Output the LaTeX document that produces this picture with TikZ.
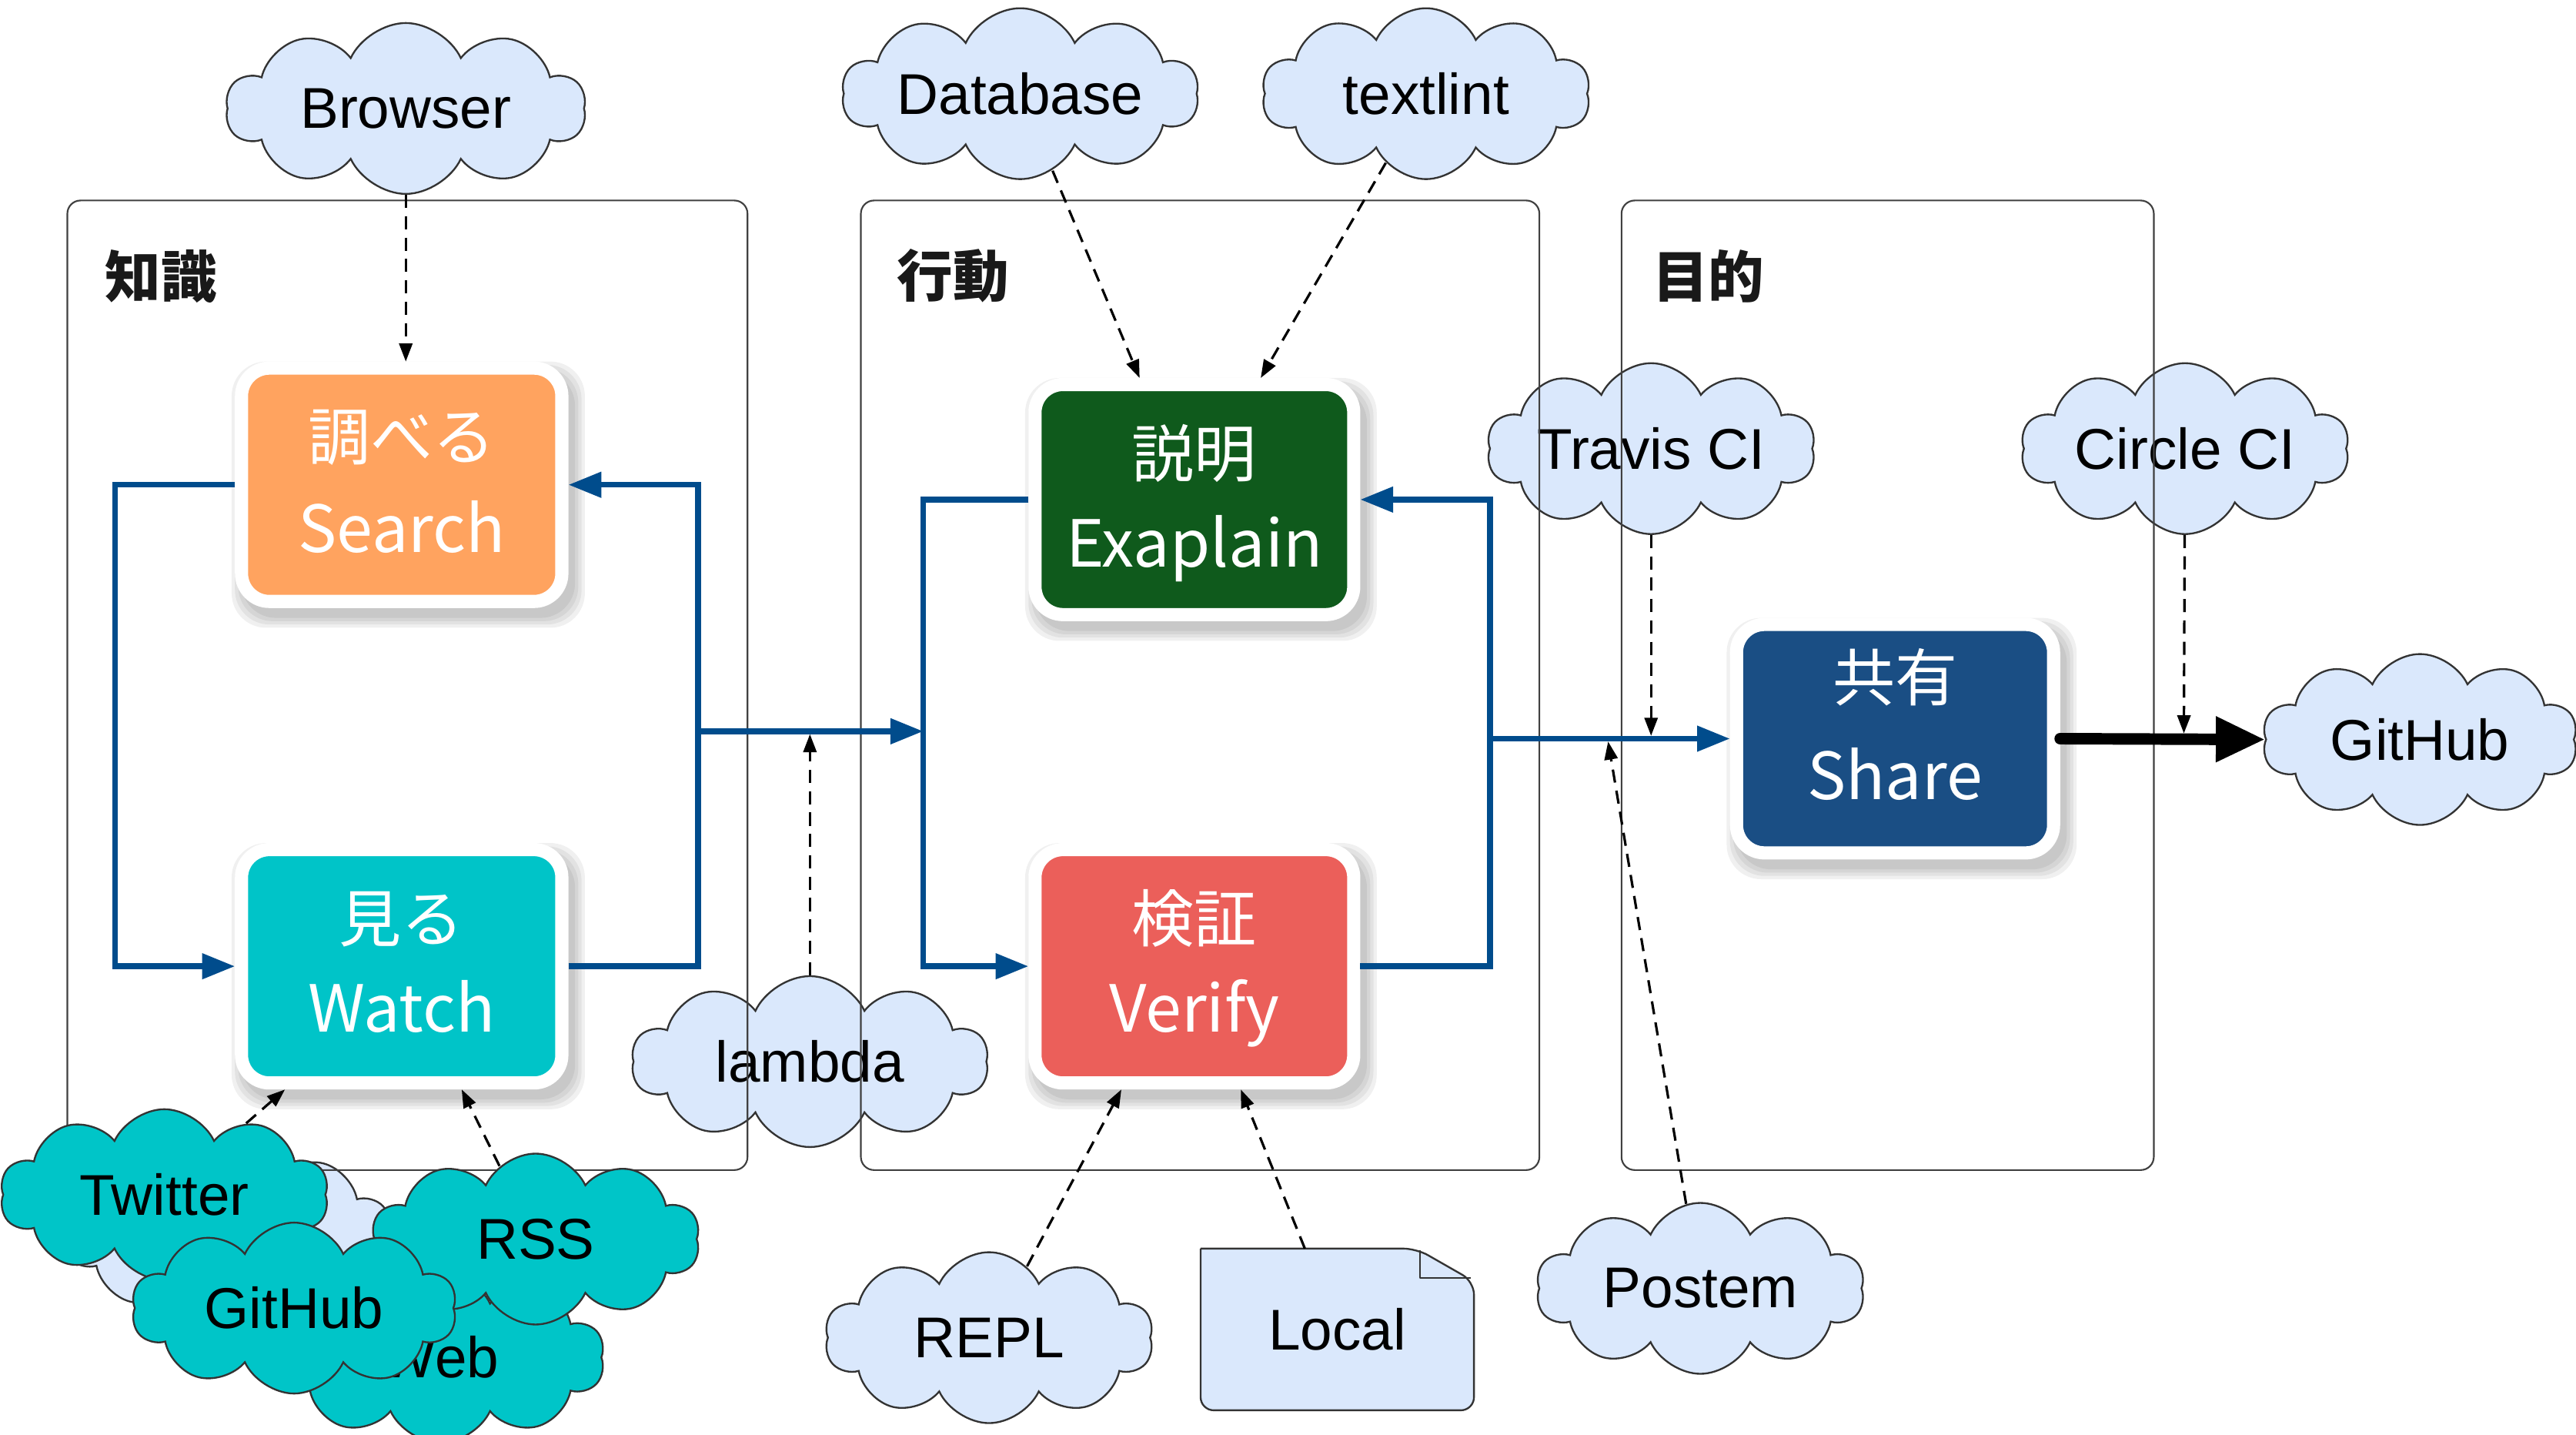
\documentclass[tikz,border=0pt]{standalone}
\usepackage{fontspec}
\setmainfont{Liberation Sans}
\newfontfamily\cjk{Noto Sans CJK JP}
\usetikzlibrary{shapes.symbols,arrows.meta,calc}
\pgfdeclarelayer{bg}
\pgfsetlayers{bg,main}
\definecolor{cloudfill}{HTML}{DAE8FC}
\definecolor{tealc}{HTML}{00C5C8}
\definecolor{orangeb}{HTML}{FFA35F}
\definecolor{tealb}{HTML}{00C4C8}
\definecolor{greenb}{HTML}{0F5A1C}
\definecolor{redb}{HTML}{EB5F5A}
\definecolor{navyb}{HTML}{1A4E84}
\definecolor{flowblue}{HTML}{004C8C}
\begin{document}
\begin{tikzpicture}[x=1pt,y=-1pt,
 cloudnode/.style={cloud, cloud puffs=10, cloud puff arc=130, shape border rotate=18, cloud ignores aspect, draw=black!80, line width=1.1pt, fill=cloudfill, minimum width=#1, minimum height=104pt, inner sep=0pt},
 cloudnode/.default=200pt,
 tealcloud/.style={cloudnode=#1, fill=tealc},
 tealcloud/.default=200pt,
 cloudtext/.style={font=\fontsize{35}{40}\selectfont, text=black},
 framebox/.style={draw=black!75, line width=1pt, rounded corners=8pt, inner sep=0pt},
 frametitle/.style={font=\cjk\bfseries\fontsize{34}{40}\selectfont, text=black!90},
 procbox/.style={rectangle, rounded corners=17pt, draw=white, line width=8pt, inner sep=0pt},
 jtext/.style={anchor=base, text=white, font=\cjk\fontsize{38}{44}\selectfont},
 ltext/.style={anchor=base, text=white, font=\cjk\fontsize{39.5}{46}\selectfont},
 flow/.style={draw=flowblue, line width=3.5pt, -{Triangle[length=20pt,width=15pt]}},
 dashy/.style={draw=black, line width=1.5pt, dash pattern=on 8pt off 5pt, -{Triangle[length=11pt,width=8pt]}},
 bigflow/.style={draw=black, line width=7pt, line cap=round, -{Triangle[length=30pt,width=26pt]}},
 doc/.style={fill=cloudfill, draw=black!80, line width=1.1pt}
]
\useasboundingbox (0,0) rectangle (1568,873);

% light clouds
\node[cloudnode=219pt, label={[cloudtext]center:Browser}] (browser) at (247,66) {};
\node[cloudnode=217pt, label={[cloudtext]center:Database}] (database) at (621,57) {};
\node[cloudnode, label={[cloudtext]center:textlint}] (textlint) at (868,57) {};
\node[cloudnode, label={[cloudtext]center:Travis CI}] (travis) at (1005,273) {};
\node[cloudnode, label={[cloudtext]center:Circle CI}] (circleci) at (1330,273) {};
\node[cloudnode=192pt, label={[cloudtext]center:GitHub}] (ghR) at (1473,450) {};
\node[cloudnode=217pt, label={[cloudtext]center:lambda}] (lambda) at (493,646) {};
\node[cloudnode, label={[cloudtext]center:REPL}] (repl) at (602,814) {};
\node[cloudnode, label={[cloudtext]center:Postem}] (postem) at (1035,784) {};
\node[cloudnode] (hidden) at (138,750) {};

% local document
\node[cloudtext, minimum width=166pt, minimum height=98pt, inner sep=0pt] (local) at (814,809) {Local};

% frames
\node[framebox, minimum width=414pt, minimum height=590pt] (fk) at (248,417) {};
\node[framebox, minimum width=413pt, minimum height=590pt] (fa) at (730.5,417) {};
\node[framebox, minimum width=324pt, minimum height=590pt] (fp) at (1149,417) {};
\node[frametitle] (tk) at (98,168) {知識};
\node[frametitle] (ta) at (580,168) {行動};
\node[frametitle] (tp) at (1040,168) {目的};

% process boxes
\node[procbox, fill=orangeb, minimum width=195pt, minimum height=142pt] (search) at (244.5,295) {};
\node[procbox, fill=tealb, minimum width=195pt, minimum height=142pt] (watch) at (244.5,588) {};
\node[procbox, fill=greenb, minimum width=194pt, minimum height=140pt] (explain) at (727,304) {};
\node[procbox, fill=redb, minimum width=194pt, minimum height=142pt] (verify) at (727,588) {};
\node[procbox, fill=navyb, minimum width=193pt, minimum height=139pt] (share) at (1153.5,449.5) {};

\node[jtext] (searchj) at ($(search.center)+(0,-15)$) {調べる};
\node[ltext] (searchl) at ($(search.center)+(0,41)$) {Search};
\node[jtext] (watchj) at ($(watch.center)+(0,-15)$) {見る};
\node[ltext] (watchl) at ($(watch.center)+(0,40)$) {Watch};
\node[jtext] (explainj) at ($(explain.center)+(0,-14)$) {説明};
\node[ltext] (explainl) at ($(explain.center)+(0,41)$) {Exaplain};
\node[jtext] (verifyj) at ($(verify.center)+(0,-15)$) {検証};
\node[ltext] (verifyl) at ($(verify.center)+(0,40)$) {Verify};
\node[jtext] (sharej) at ($(share.center)+(0,-23)$) {共有};
\node[ltext] (sharel) at ($(share.center)+(0,37)$) {Share};

% teal clouds
\node[tealcloud, label={[cloudtext]center:Web}] (web) at (268,826) {};
\node[tealcloud, label={[cloudtext]center:Twitter}] (twitter) at (100,727) {};
\node[tealcloud, label={[cloudtext]center:RSS}] (rss) at (326,754) {};
\node[tealcloud=198pt, label={[cloudtext]center:GitHub}] (ghT) at (179,796) {};

% background: shadows and document outline
\begin{pgfonlayer}{bg}
\foreach \b in {search,watch,explain,verify,share}{
  \foreach \k in {0,2,4,6}{
    \fill[black, opacity=0.06, rounded corners=21pt] ($(\b.north west)+(4-\k,6-\k)$) rectangle ($(\b.south east)+(4+\k,6+\k)$);
  }
}
\draw[doc, rounded corners=8pt] (local.north west) -- ($(local.north east)+(-35,0)$) -- ($(local.north east)+(0,20)$) -- (local.south east) -- (local.south west) -- (local.north west);
\draw[doc, fill=none, line join=round] ($(local.north east)+(-33,1)$) -- ($(local.north east)+(-33,18)$) -- ($(local.north east)+(-2,18)$);
\end{pgfonlayer}

% flow connectors
\draw[flow] (search.west) -- ++(-73,0) |- (watch.west);
\draw[flow] (watch.east) -- ++(79,0) |- (search.east);
\coordinate (j1) at (425,445);
\coordinate (j2) at (562,445);
\draw[flow] (j1) -- (j2);
\draw[flow] (explain.west) -- ++(-64,0) |- (verify.west);
\draw[flow] (verify.east) -- ++(79,0) |- (explain.east);
\coordinate (j3) at (907,449.5);
\draw[flow] (j3) -- (share.west);
\draw[bigflow] (share.east) -- (ghR.west);

% dashed connectors
\draw[dashy] (browser) -- (browser |- search.north);
\draw[dashy] (database) -- ($(explain.north west)!0.335!(explain.north east)$);
\draw[dashy] (textlint) -- ($(explain.north west)!0.70!(explain.north east)$);
\draw[dashy, shorten >=1.75pt] (lambda) -- ($(j1)!(lambda)!(j2)$);
\draw[dashy, shorten >=1.75pt] (travis) -- ($(j3)!(travis)!(share.west)$);
\draw[dashy, shorten >=3.5pt] (circleci) -- ($(share.east)!(circleci)!(ghR.west)$);
\draw[dashy, shorten >=1.75pt] (postem) -- ($(j3)!0.49!(share.west)$);
\draw[dashy] (repl) -- ($(verify.south west)!0.28!(verify.south east)$);
\draw[dashy] (local) -- ($(verify.south west)!0.64!(verify.south east)$);
\draw[dashy] (twitter) -- ($(watch.south west)!0.15!(watch.south east)$);
\draw[dashy] (rss) -- ($(watch.south west)!0.68!(watch.south east)$);
\end{tikzpicture}
\end{document}
